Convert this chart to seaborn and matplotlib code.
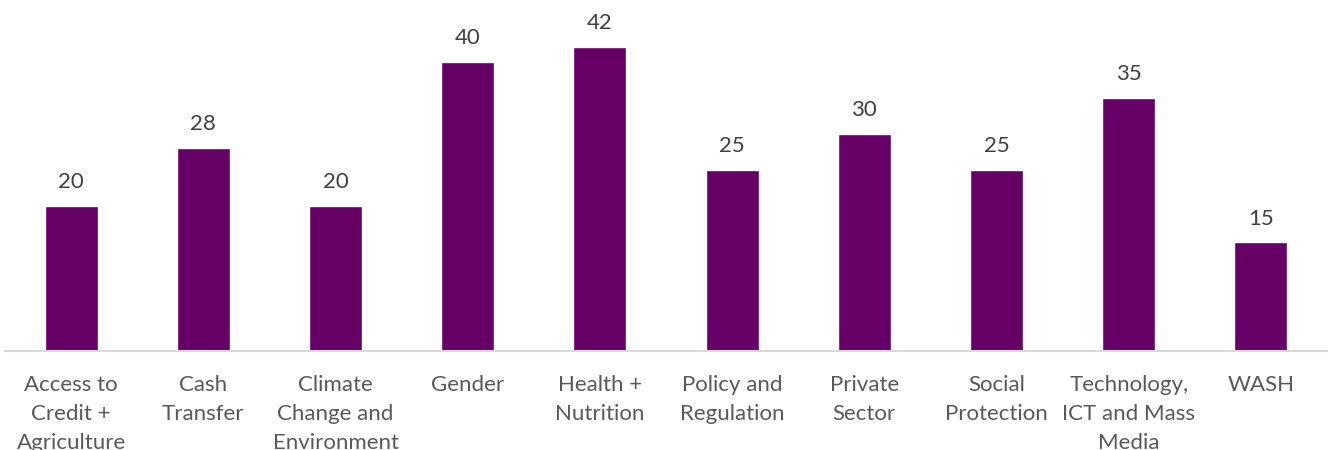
import matplotlib
matplotlib.use("Agg")
import matplotlib.pyplot as plt
import seaborn as sns
import pandas as pd

categories = ["Access to\nCredit +\nAgriculture", "Cash\nTransfer", "Climate\nChange and\nEnvironment",
              "Gender", "Health +\nNutrition", "Policy and\nRegulation", "Private\nSector",
              "Social\nProtection", "Technology,\nICT and Mass\nMedia", "WASH"]
values = [20, 28, 20, 40, 42, 25, 30, 25, 35, 15]

sns.set_theme(style="white")
plt.rcParams['font.family'] = ['Lato', 'DejaVu Sans']

df = pd.DataFrame({"cat": categories, "val": values})

fig = plt.figure(figsize=(13.31, 4.5), dpi=100)
ax = fig.add_axes([5/1331, 99/450, 1322/1331, 351/450])
sns.barplot(data=df, x="cat", y="val", color="#660066", width=0.4, ax=ax, saturation=1)
ax.set_ylim(0, 48.5)
ax.set_xlim(-0.5, len(categories) - 0.5)
ax.set_xlabel("")
ax.set_ylabel("")
ax.set_yticks([])
for s in ["top", "left", "right"]:
    ax.spines[s].set_visible(False)
ax.spines["bottom"].set_color("#d9d9d9")
ax.spines["bottom"].set_linewidth(1.5)
ax.tick_params(axis="x", length=0, pad=17, labelsize=16, labelcolor="#595959")
for lab in ax.get_xticklabels():
    lab.set_linespacing(1.56)
for c in ax.containers:
    ax.bar_label(c, labels=[f"{v:g}" for v in c.datavalues], padding=10, fontsize=16, color="#404040")
fig.savefig("out.png", dpi=100)
